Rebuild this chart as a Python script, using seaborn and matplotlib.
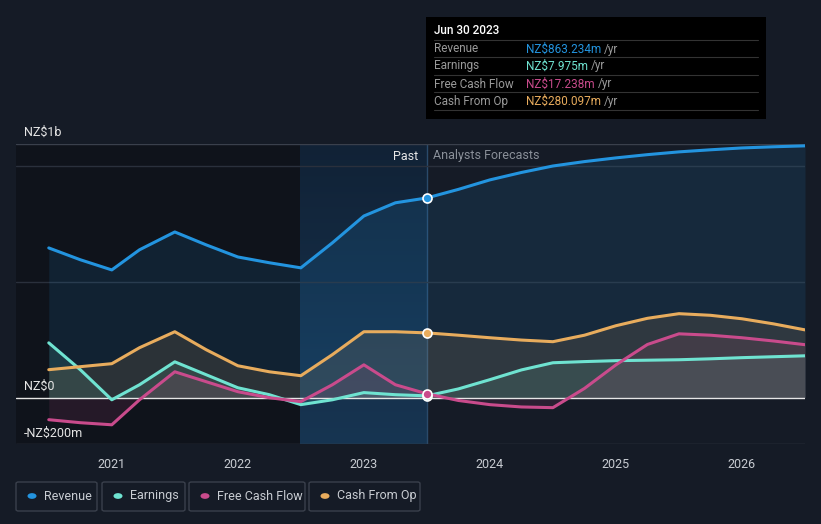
import matplotlib
matplotlib.use("Agg")
import matplotlib.pyplot as plt
import matplotlib.patches as mpatches
import seaborn as sns
import pandas as pd
import numpy as np

# ---- data (NZ$ millions) ----
years = [2020.5, 2020.75, 2021.0, 2021.22, 2021.5, 2021.75, 2022.0, 2022.25, 2022.5,
         2022.75, 2023.0, 2023.25, 2023.5, 2023.75, 2024.0, 2024.25, 2024.5, 2024.75,
         2025.0, 2025.25, 2025.5, 2025.75, 2026.0, 2026.25, 2026.5]
revenue = [647, 596, 552, 639, 716, 660, 608, 583, 561, 669, 785, 842, 863, 900, 941, 973,
           1001, 1020, 1036, 1050, 1062, 1071, 1079, 1084, 1088]
earnings = [237, 121, -9, 56, 155, 99, 43, 13, -30, -9, 22, 13, 8, 38, 78, 120,
            151, 156, 160, 162, 164, 168, 173, 177, 181]
free_cash_flow = [-95, -108, -117, -9, 112, 69, 26, 0, -17, 56, 142, 56, 17, -12, -30, -40,
                  -43, 40, 142, 230, 276, 270, 259, 245, 229]
cash_from_op = [121, 134, 147, 216, 285, 207, 138, 112, 95, 186, 285, 285, 280, 270, 259, 249,
                242, 270, 311, 343, 363, 356, 341, 319, 293]

series_names = ["Revenue", "Earnings", "Free Cash Flow", "Cash From Op"]
tick_years = [2021, 2022, 2023, 2024, 2025, 2026]
tooltip_date = "Jun 30 2023"
tooltip_values = ["NZ$863.234m", "NZ$7.975m", "NZ$17.238m", "NZ$280.097m"]

colors = ["#2394df", "#6fe3d1", "#c94b8c", "#e8ac5d"]
BG = "#151b26"

df = pd.DataFrame({"year": years, "Revenue": revenue, "Earnings": earnings,
                   "Free Cash Flow": free_cash_flow, "Cash From Op": cash_from_op})
long = df.melt(id_vars="year", var_name="series", value_name="value")

sns.set_theme(style="dark")
plt.rcParams['font.family'] = ['Roboto', 'DejaVu Sans']

W, H = 821, 524
fig = plt.figure(figsize=(W / 100, H / 100), dpi=100, facecolor=BG)
ax = fig.add_axes([16 / W, (H - 444) / H, (805 - 16) / W, (444 - 144) / H])
ax.set_facecolor(BG)

ymin, ymax = -200, 1096
xmin, xmax = 2020.24, 2026.5
ax.set_xlim(xmin, xmax)
ax.set_ylim(ymin, ymax)

now = 2023.5
past_start = 2022.49
ax.axvspan(xmin, past_start, color="#0f131b", zorder=0, lw=0)
grad = np.linspace(0, 1, 256).reshape(-1, 1)
ax.imshow(grad, extent=[past_start, now, ymin, ymax], aspect="auto", origin="lower",
          cmap=matplotlib.colors.LinearSegmentedColormap.from_list(
              "g", ["#173552", "#112236"]), zorder=0.5, alpha=1.0)
ax.axvline(now, color="#2a4a6a", lw=1, zorder=1)

for gy in [500, 1000]:
    ax.axhline(gy, color="#2a303c", lw=1, zorder=1)
ax.axhline(ymax, color="#3a404c", lw=1, zorder=1)
ax.axhline(ymin, color="#3a404c", lw=1, zorder=1)
ax.axhline(0, color="#e6e6e6", lw=1, zorder=4)

for name, c in zip(series_names, colors):
    ax.fill_between(df["year"], df[name], 0, color=c, alpha=0.12, lw=0, zorder=2)

sns.lineplot(data=long, x="year", y="value", hue="series", hue_order=series_names,
             palette=colors, lw=2.2, ax=ax, legend=False, zorder=5)

for name, c in zip(series_names, colors):
    v = df.loc[df["year"] == now, name].iloc[0]
    ax.scatter([now], [v], s=42, color=c, edgecolor="white", linewidth=1.2, zorder=7)

for s in ax.spines.values():
    s.set_visible(False)
ax.set_xlabel("")
ax.set_ylabel("")
ax.set_yticks([])
ax.set_xticks(tick_years)
ax.set_xticklabels([str(t) for t in tick_years], color="#c8ccd2", fontsize=9)
ax.tick_params(axis="x", length=4, color="#3a404c", pad=6, width=1)
ax.grid(False)

def fy(py):
    return (H - py) / H
fig.text(24 / W, fy(132), "NZ$1b", color="#e6e6e6", fontsize=9, va="center", ha="left")
fig.text(24 / W, fy(386), "NZ$0", color="#e6e6e6", fontsize=9, va="center", ha="left")
fig.text(24 / W, fy(433), "-NZ$200m", color="#e6e6e6", fontsize=9, va="center", ha="left")

fig.text(418 / W, fy(156), "Past", color="#e6e6e6", fontsize=9, va="center", ha="right")
fig.text(433 / W, fy(156), "Analysts Forecasts", color="#8a9099", fontsize=9, va="center", ha="left")

# tooltip
fig.patches.append(mpatches.Rectangle((426 / W, fy(119)), (766 - 426) / W, (119 - 17) / H,
                                      transform=fig.transFigure, facecolor="#000000",
                                      edgecolor="none", zorder=10))
fig.text(434 / W, fy(31), tooltip_date, color="#ffffff", fontsize=8.5, fontweight="medium",
         va="center", ha="left", zorder=11)
rows_y = [49, 66, 84, 101]
for i, (name, val, c) in enumerate(zip(series_names, tooltip_values, colors)):
    yy = rows_y[i]
    fig.lines.append(plt.Line2D([434 / W, 758 / W], [fy(yy - 9), fy(yy - 9)],
                                transform=fig.transFigure, color="#333333", lw=0.8, zorder=11))
    fig.text(434 / W, fy(yy), name, color="#9a9a9a", fontsize=8.5, va="center", ha="left", zorder=11)
    t = fig.text(526 / W, fy(yy), val, color=c, fontsize=8.5, va="center", ha="left", zorder=11)
    fig.canvas.draw()
    bb = t.get_window_extent()
    fig.text(bb.x1 / W + 3 / W, fy(yy), "/yr", color="#9a9a9a", fontsize=8.5, va="center", ha="left", zorder=11)
fig.lines.append(plt.Line2D([434 / W, 758 / W], [fy(110), fy(110)],
                            transform=fig.transFigure, color="#333333", lw=0.8, zorder=11))

boxes = [(16, 97), (102, 185), (189, 305), (309, 420)]
for (x0, x1), name, c in zip(boxes, series_names, colors):
    fig.patches.append(mpatches.FancyBboxPatch((x0 / W, fy(511)), (x1 - x0) / W, 29 / H,
                                               boxstyle="round,pad=0,rounding_size=0.003",
                                               transform=fig.transFigure, facecolor="none",
                                               edgecolor="#3a404c", lw=1))
    fig.patches.append(mpatches.Circle(((x0 + 16) / W, fy(496)), 4.5 / W,
                                       transform=fig.transFigure, facecolor=c, edgecolor="none"))
    fig.text((x0 + 28) / W, fy(496), name, color="#c8ccd2", fontsize=9, va="center", ha="left")

fig.savefig("out.png", dpi=100, facecolor=BG)
